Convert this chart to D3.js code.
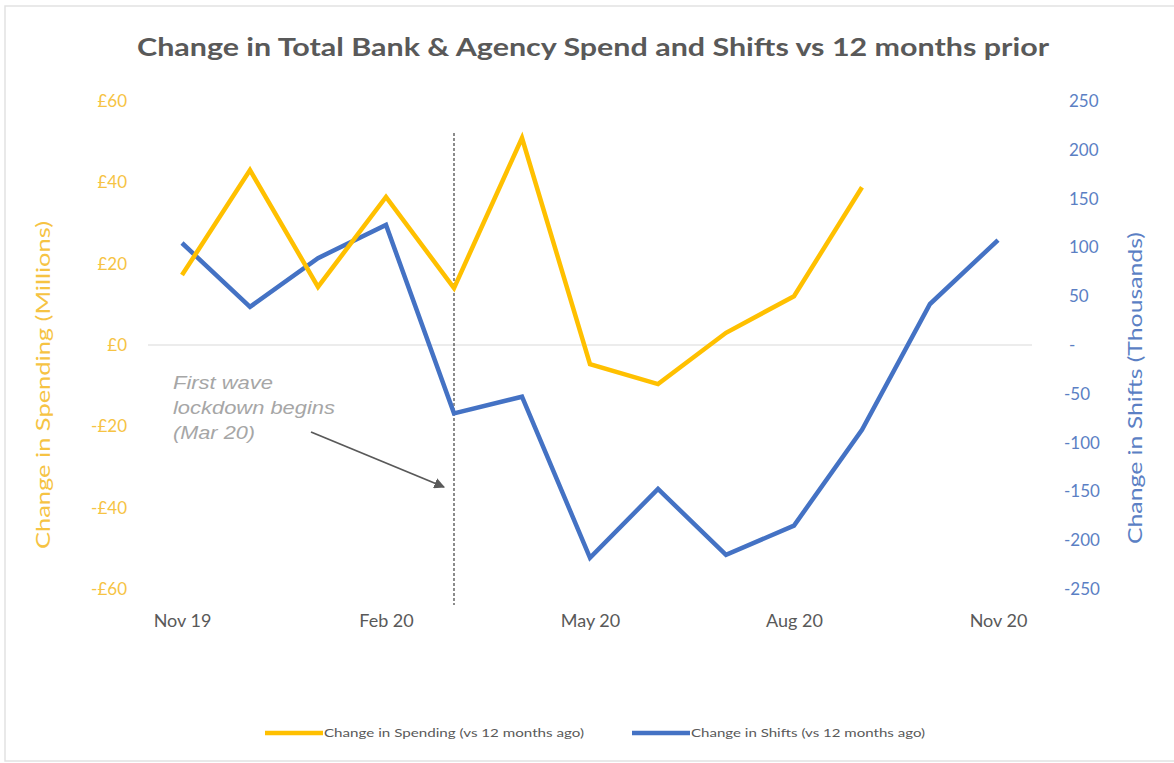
<!DOCTYPE html>
<html>
<head>
<meta charset="utf-8">
<script src="https://cdn.jsdelivr.net/npm/d3@7/dist/d3.min.js"></script>
<style>
  html, body { margin: 0; padding: 0; background: #fff; }
  svg { display: block; }
</style>
</head>
<body>
<svg id="chart" width="1174" height="763"></svg>
<script>
const months = ["Nov 19","Dec 19","Jan 20","Feb 20","Mar 20","Apr 20","May 20","Jun 20","Jul 20","Aug 20","Sep 20","Oct 20","Nov 20"];
const tickMonths = ["Nov 19","Feb 20","May 20","Aug 20","Nov 20"];
const spending = [17.2, 43.0, 14.3, 36.4, 14.0, 50.9, -4.7, -9.6, 3.0, 12.0, 38.8, null, null];
const shifts = [104.5, 39, 89, 123, -70, -53, -218, -147.5, -215, -185, -87, 42, 107.5];
const leftTicks = [-60, -40, -20, 0, 20, 40, 60];
const rightTicks = [-250, -200, -150, -100, -50, 0, 50, 100, 150, 200, 250];
const lockdownMonth = "Mar 20";
const annotationLines = ["First wave", "lockdown begins", "(Mar 20)"];

const YELLOW = "#FFC000", BLUE = "#4472C4";
const svg = d3.select("#chart");
const font = "Lato, 'Open Sans', sans-serif";

// border
svg.append("rect").attr("x", 5).attr("y", 6).attr("width", 1180).attr("height", 755)
  .attr("fill", "none").attr("stroke", "#e2e2e2").attr("stroke-width", 1.5);

const plot = {left: 148, right: 1032, top: 101, bottom: 589};

const x = d3.scalePoint().domain(months).range([plot.left, plot.right]).padding(0.5);
const yL = d3.scaleLinear().domain([-60, 60]).range([plot.bottom, plot.top]);
const yR = d3.scaleLinear().domain([-250, 250]).range([plot.bottom, plot.top]);

// title
svg.append("text").attr("x", 593).attr("y", 56).attr("text-anchor", "middle")
  .attr("font-family", font).attr("font-weight", "bold").attr("font-size", 24)
  .attr("fill", "#595959")
  .attr("textLength", 912).attr("lengthAdjust", "spacingAndGlyphs")
  .text("Change in Total Bank & Agency Spend and Shifts vs 12 months prior");

// zero gridline
svg.append("line").attr("x1", plot.left).attr("x2", plot.right)
  .attr("y1", yL(0)).attr("y2", yL(0)).attr("stroke", "#d9d9d9").attr("stroke-width", 1.2);

// left axis
const leftAxis = d3.axisLeft(yL).tickValues(leftTicks).tickSize(0).tickPadding(0)
  .tickFormat(d => d < 0 ? "-£" + Math.abs(d) : "£" + d);
const gL = svg.append("g").attr("transform", "translate(127,0)").call(leftAxis);
gL.select(".domain").remove();
gL.selectAll("text").attr("font-family", font).attr("font-size", 17).attr("fill", "#F6C343");

// right axis
const rightAxis = d3.axisRight(yR).tickValues(rightTicks).tickSize(0).tickPadding(0)
  .tickFormat(d => d === 0 ? "-" : String(d));
const gR = svg.append("g").attr("transform", "translate(1069,0)").call(rightAxis);
gR.select(".domain").remove();
gR.selectAll("text").attr("font-family", font).attr("font-size", 17).attr("fill", "#5B7FC4")
  .attr("dx", d => d < 0 ? -5 : 0);

// x axis
const xAxis = d3.axisBottom(x).tickValues(tickMonths).tickSize(0).tickPadding(0);
const gX = svg.append("g").attr("transform", "translate(0,614)").call(xAxis);
gX.select(".domain").remove();
gX.selectAll("text").attr("font-family", font).attr("font-size", 18).attr("fill", "#595959");

// axis titles
svg.append("text").attr("transform", `translate(50,385) rotate(-90)`).attr("text-anchor", "middle")
  .attr("font-family", font).attr("font-size", 20).attr("fill", "#F6C343")
  .attr("textLength", 328).attr("lengthAdjust", "spacingAndGlyphs")
  .text("Change in Spending (Millions)");
svg.append("text").attr("transform", `translate(1142,388) rotate(-90)`).attr("text-anchor", "middle")
  .attr("font-family", font).attr("font-size", 20).attr("fill", "#5B7FC4")
  .attr("textLength", 312).attr("lengthAdjust", "spacingAndGlyphs")
  .text("Change in Shifts (Thousands)");

// lockdown dashed line
svg.append("line").attr("x1", x(lockdownMonth)).attr("x2", x(lockdownMonth))
  .attr("y1", 133).attr("y2", 605).attr("stroke", "#404040").attr("stroke-width", 1.2)
  .attr("stroke-dasharray", "3,2");

// lines
const lineL = d3.line().defined(d => d.v !== null).x(d => x(d.m)).y(d => yL(d.v));
const lineR = d3.line().defined(d => d.v !== null).x(d => x(d.m)).y(d => yR(d.v));
svg.append("path").datum(months.map((m, i) => ({m, v: shifts[i]})))
  .attr("d", lineR).attr("fill", "none").attr("stroke", BLUE).attr("stroke-width", 4.5)
  .attr("stroke-linejoin", "miter");
svg.append("path").datum(months.map((m, i) => ({m, v: spending[i]})))
  .attr("d", lineL).attr("fill", "none").attr("stroke", YELLOW).attr("stroke-width", 4.5)
  .attr("stroke-linejoin", "miter");

// annotation
const annWidths = [100, 162, 82];
annotationLines.forEach((t, i) => {
  svg.append("text").attr("x", 173).attr("y", 389 + i * 25)
    .attr("font-family", "'Liberation Sans', Arial, sans-serif").attr("font-style", "italic")
    .attr("font-size", 18).attr("fill", "#A6A6A6")
    .attr("textLength", annWidths[i]).attr("lengthAdjust", "spacingAndGlyphs")
    .text(t);
});
svg.append("defs").append("marker").attr("id", "arr").attr("viewBox", "0 0 10 10")
  .attr("refX", 9).attr("refY", 5).attr("markerWidth", 6).attr("markerHeight", 6)
  .attr("orient", "auto").append("path").attr("d", "M0,0 L10,5 L0,10 z").attr("fill", "#595959");
svg.append("line").attr("x1", 311).attr("y1", 432).attr("x2", 444).attr("y2", 487)
  .attr("stroke", "#595959").attr("stroke-width", 1.8).attr("marker-end", "url(#arr)");

// legend
const legend = [
  {label: "Change in Spending (vs 12 months ago)", color: YELLOW, x: 265, w: 260},
  {label: "Change in Shifts (vs 12 months ago)", color: BLUE, x: 632, w: 234}
];
legend.forEach(l => {
  svg.append("line").attr("x1", l.x).attr("x2", l.x + 58).attr("y1", 733).attr("y2", 733)
    .attr("stroke", l.color).attr("stroke-width", 4.5);
  svg.append("text").attr("x", l.x + 59).attr("y", 737).attr("font-family", font)
    .attr("font-size", 12).attr("fill", "#595959")
    .attr("textLength", l.w).attr("lengthAdjust", "spacingAndGlyphs").text(l.label);
});
</script>
</body>
</html>
